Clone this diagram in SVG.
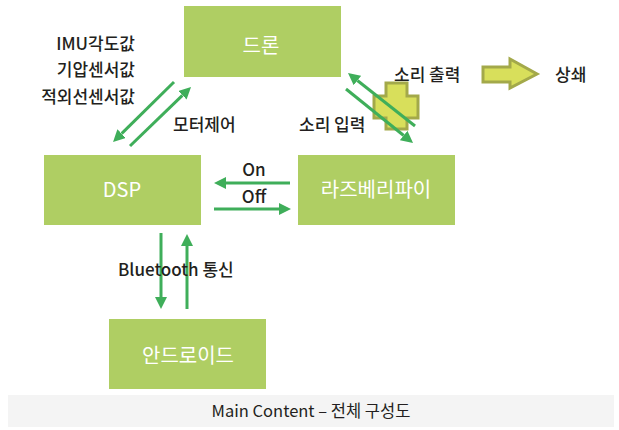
<svg xmlns="http://www.w3.org/2000/svg" width="619" height="430" viewBox="0 0 619 430">
<style>
.box{fill:#afce63}
.bl{font-family:"Noto Sans CJK KR","Noto Sans",sans-serif;font-size:20px;fill:#ffffff;text-anchor:middle}
.lb{font-family:"Noto Sans CJK KR","Noto Sans",sans-serif;font-size:17px;font-weight:500;fill:#231f20}
.ar{stroke:#3fae5a;stroke-width:3;fill:none;marker-end:url(#ah)}
.yl{fill:#d8df5b;stroke:#a3a94a;stroke-width:3}
</style>
<defs>
<marker id="ah" viewBox="0 -6 12 12" refX="0" refY="0" markerWidth="12" markerHeight="12" markerUnits="userSpaceOnUse" orient="auto">
<path d="M0,-6 L12,0 L0,6 z" fill="#3fae5a"/>
</marker>
</defs>
<rect x="0" y="0" width="619" height="430" fill="#ffffff"/>
<rect x="8" y="395" width="606" height="32" fill="#f4f4f4"/>
<text x="311" y="417" class="lb" text-anchor="middle" style="font-size:16.5px;font-weight:400">Main Content – 전체 구성도</text>

<g id="drone"><rect class="box" x="184" y="6" width="157" height="71"/><text class="bl" x="261" y="53">드론</text></g>
<g id="dsp"><rect class="box" x="44" y="155" width="157" height="70"/><text class="bl" x="122" y="197">DSP</text></g>
<g id="raspberry"><rect class="box" x="298" y="155" width="157" height="70"/><text class="bl" x="376" y="197">라즈베리파이</text></g>
<g id="android"><rect class="box" x="109" y="319" width="157" height="70"/><text class="bl" x="188" y="363">안드로이드</text></g>

<g id="cancel">
<polygon class="yl" points="386,83 407,83 407,96 418,96 418,118 407,118 407,129 386,129 386,118 374,118 374,96 386,96"/>
<polygon class="yl" points="483,67 510,67 510,59 537,74 510,88 510,82 483,82"/>
</g>

<g id="connectors">
<line class="ar" x1="174" y1="82" x2="121.6" y2="133.6"/>
<line class="ar" x1="130" y1="146" x2="182.4" y2="95.3"/>
<line class="ar" x1="415" y1="126" x2="357.4" y2="80.5"/>
<line class="ar" x1="346" y1="89" x2="403.7" y2="135.5"/>
<line class="ar" x1="290" y1="183" x2="226" y2="183"/>
<line class="ar" x1="214" y1="209" x2="279" y2="209"/>
<line class="ar" x1="161" y1="233" x2="161" y2="297"/>
<line class="ar" x1="187" y1="309" x2="187" y2="246"/>
</g>

<g id="labels">
<text class="lb" x="135" y="50" text-anchor="end">IMU각도값</text>
<text class="lb" x="135" y="76" text-anchor="end">기압센서값</text>
<text class="lb" x="135" y="103" text-anchor="end">적외선센서값</text>
<text class="lb" x="173" y="131">모터제어</text>
<text class="lb" x="299" y="131">소리 입력</text>
<text class="lb" x="394" y="81">소리 출력</text>
<text class="lb" x="555" y="81">상쇄</text>
<text class="lb" x="254" y="176" text-anchor="middle">On</text>
<text class="lb" x="254" y="203" text-anchor="middle">Off</text>
<text class="lb" x="118" y="276">Bluetooth 통신</text>
</g>
</svg>
